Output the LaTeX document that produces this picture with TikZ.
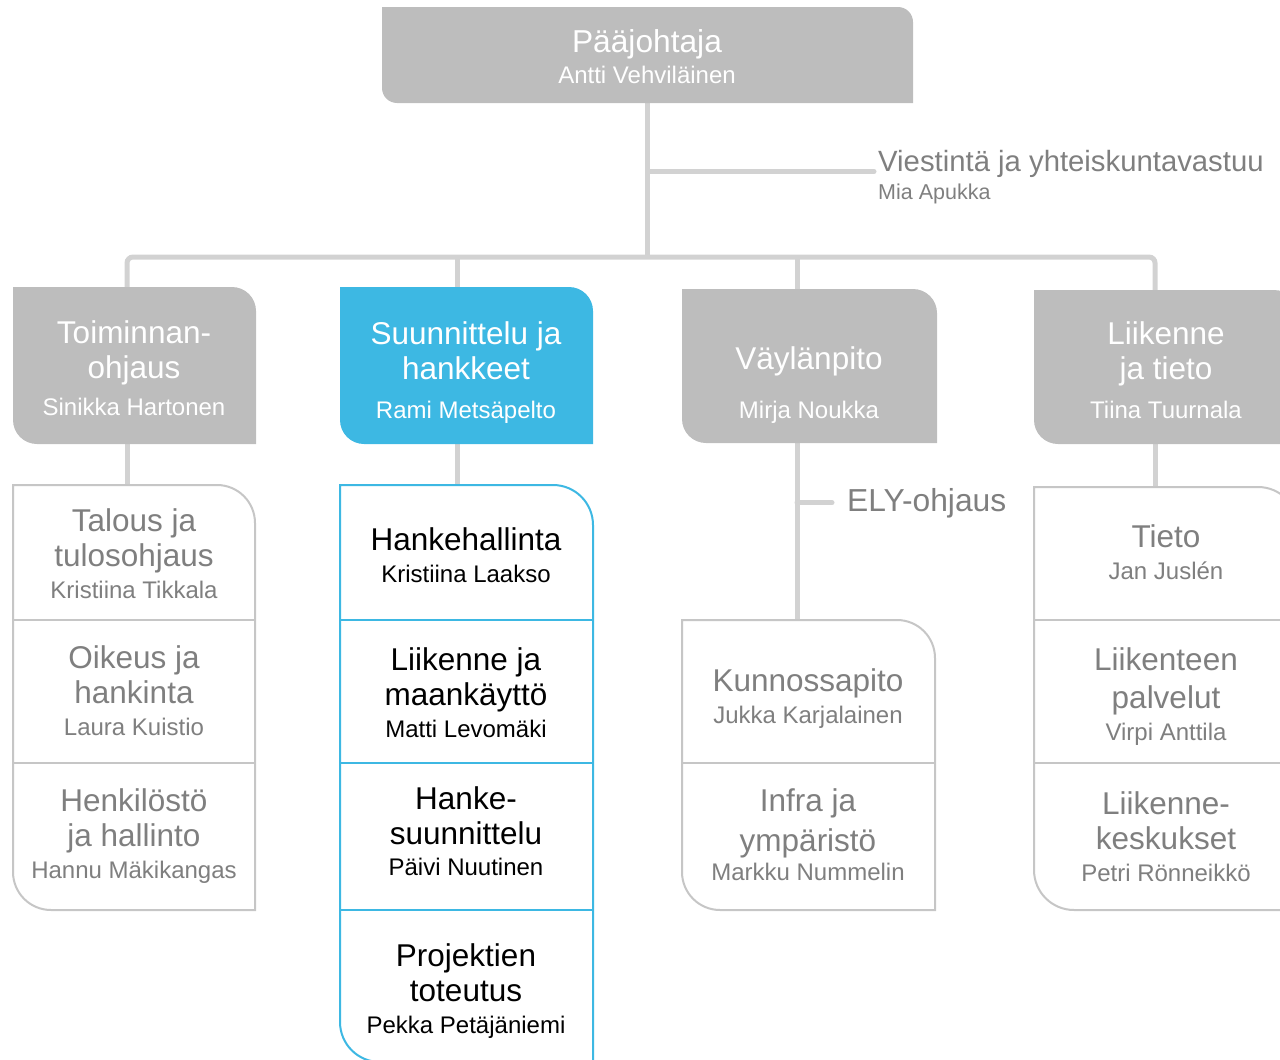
\documentclass[tikz,border=0pt]{standalone}
\usepackage{fontspec}
\setmainfont{Liberation Sans}
\usetikzlibrary{calc}
\definecolor{boxgray}{HTML}{BDBDBD}
\definecolor{lineg}{HTML}{D2D2D2}
\definecolor{bordg}{HTML}{C6C6C6}
\definecolor{blu}{HTML}{3DB8E3}
\definecolor{txtg}{HTML}{7F7F7F}
\newcommand\tworound[3]{%
  \path[#2] (#1.north west) -- ([xshift=-#3]#1.north east)
    arc[start angle=90,end angle=0,radius=#3] -- (#1.south east)
    -- ([xshift=#3]#1.south west) arc[start angle=270,end angle=180,radius=#3] -- cycle;}
\newcommand\nm{\fontsize{24}{28}\selectfont}
\tikzset{
  frame/.style={rectangle, inner sep=0pt, outer sep=0pt, draw=none},
  conn/.style={draw=lineg, line width=5pt},
  txt/.style={align=center, inner sep=0pt, font=\fontsize{31.5}{35}\selectfont},
  wtxt/.style={txt, text=white},
  gtxt/.style={txt, text=txtg},
  ktxt/.style={txt, text=black},
  gbox/.style={fill=boxgray},
  bbox/.style={fill=blu},
  glist/.style={draw=bordg, line width=2pt, fill=white},
  blist/.style={draw=blu, line width=2pt, fill=white},
  gdiv/.style={draw=bordg, line width=2pt},
  bdiv/.style={draw=blu, line width=2pt},
}
\begin{document}
\begin{tikzpicture}[x=1pt,y=1pt]
\useasboundingbox (0,0) rectangle (1280,-1060);
\clip (0,0) rectangle (1280,-1060);
% frames
\node[frame, minimum width=531pt, minimum height=96pt] (top) at (647.5,-55) {};
\node[frame, minimum width=243pt, minimum height=157pt] (l1) at (134.5,-365.5) {};
\node[frame, minimum width=253pt, minimum height=157pt] (l2) at (466.5,-365.5) {};
\node[frame, minimum width=255pt, minimum height=154pt] (l3) at (809.5,-366) {};
\node[frame, minimum width=264pt, minimum height=154pt] (l4) at (1166,-367) {};
\node[frame, minimum width=242pt, minimum height=425pt] (c1) at (134,-697.5) {};
\node[frame, minimum width=253pt, minimum height=577pt] (c2) at (466.5,-773.5) {};
\node[frame, minimum width=253pt, minimum height=290pt] (c3) at (808.5,-765) {};
\node[frame, minimum width=264pt, minimum height=423pt] (c4) at (1166,-698.5) {};
% side labels
\node[anchor=base west, inner sep=0pt, text=txtg, font=\fontsize{29.3}{33}\selectfont] (viest) at (878,-171.5) {Viestintä ja yhteiskuntavastuu};
\node[anchor=base west, inner sep=0pt, text=txtg, font=\fontsize{21.5}{25}\selectfont] (mia) at (878,-199) {Mia Apukka};
\node[anchor=base west, inner sep=0pt, text=txtg, font=\fontsize{31.8}{35}\selectfont] (ely) at (847,-511) {ELY-ohjaus};
\coordinate (bus) at (647.5,-257);
% connectors
\draw[conn] (top.south) -- (bus);
\draw[conn, line cap=round] (top.south |- viest.base west) -- ([xshift=-4pt]viest.base west);
\draw[conn, rounded corners=6pt] ([xshift=-7.5pt]l1.north) |- (bus) -| ([xshift=-11pt]l4.north);
\draw[conn] ([xshift=-9.5pt]l2.north) -- ([xshift=-9.5pt]l2.north |- bus);
\draw[conn] ([xshift=-12.5pt]l3.north) -- ([xshift=-12.5pt]l3.north |- bus);
\draw[conn] ([xshift=-7.5pt]l1.south) -- ([xshift=-7.5pt]l1.south |- c1.north);
\draw[conn] ([xshift=-9.5pt]l2.south) -- ([xshift=-9.5pt]l2.south |- c2.north);
\draw[conn] ([xshift=-12.5pt]l3.south) -- ([xshift=-12.5pt]l3.south |- c3.north);
\draw[conn] ([xshift=-11pt]l4.south) -- ([xshift=-11pt]l4.south |- c4.north);
\draw[conn, line cap=round] ([xshift=-12.5pt]l3.south |- ely.west) -- ([xshift=-15pt]ely.west);
% boxes
\tworound{top}{gbox}{15pt}
\tworound{l1}{gbox}{24pt}
\tworound{l2}{bbox}{24pt}
\tworound{l3}{gbox}{24pt}
\tworound{l4}{gbox}{24pt}
\tworound{c1}{glist}{38pt}
\tworound{c2}{blist}{40pt}
\tworound{c3}{glist}{38pt}
\tworound{c4}{glist}{40pt}
% dividers
\draw[gdiv] (c1.west |- 0,-620) -- (c1.east |- 0,-620);
\draw[gdiv] (c1.west |- 0,-763) -- (c1.east |- 0,-763);
\draw[bdiv] (c2.west |- 0,-620) -- (c2.east |- 0,-620);
\draw[bdiv] (c2.west |- 0,-763) -- (c2.east |- 0,-763);
\draw[bdiv] (c2.west |- 0,-910) -- (c2.east |- 0,-910);
\draw[gdiv] (c3.west |- 0,-763) -- (c3.east |- 0,-763);
\draw[gdiv] (c4.west |- 0,-620) -- (c4.east |- 0,-620);
\draw[gdiv] (c4.west |- 0,-763) -- (c4.east |- 0,-763);
% texts
\node[wtxt, font=\fontsize{31.7}{34}\selectfont] (ttop) at (647,-56.5) {Pääjohtaja\\[-3pt]\nm Antti Vehviläinen};
\node[wtxt] (tl1) at (134,-368) {Toiminnan-\\ohjaus\\[2pt]\nm Sinikka Hartonen};
\node[wtxt] (tl2) at (466,-372.5) {Suunnittelu ja\\hankkeet\\[4pt]\nm Rami Metsäpelto};
\node[wtxt] (tl3) at (809,-385.5) {Väylänpito\\[14pt]\nm Mirja Noukka};
\node[wtxt] (tl4) at (1166,-370) {Liikenne\\ja tieto\\[4pt]\nm Tiina Tuurnala};
\node[gtxt] (c1a) at (134,-554) {Talous ja\\tulosohjaus\\[-3pt]\nm Kristiina Tikkala};
\node[gtxt] (c1b) at (134,-691) {Oikeus ja\\hankinta\\[-3pt]\nm Laura Kuistio};
\node[gtxt] (c1c) at (134,-836) {Henkilöstö\\ja hallinto\\[-3pt]\nm Hannu Mäkikangas};
\node[ktxt] (c2a) at (466,-555.5) {Hankehallinta\\[-3pt]\nm Kristiina Laakso};
\node[ktxt] (c2b) at (466,-693) {Liikenne ja\\maankäyttö\\[-3pt]\nm Matti Levomäki};
\node[ktxt] (c2c) at (466,-831) {Hanke-\\suunnittelu\\[-4pt]\nm Päivi Nuutinen};
\node[ktxt] (c2d) at (466,-991.5) {Projektien\\toteutus\\[-3pt]\nm Pekka Petäjäniemi};
\node[gtxt] (c3a) at (808,-699) {Kunnossapito\\[-3pt]\nm Jukka Karjalainen};
\node[gtxt] (c3b) at (808,-835) {Infra ja\\[5pt]ympäristö\\[-6pt]\nm Markku Nummelin};
\node[gtxt] (c4a) at (1166,-552) {Tieto\\[-3pt]\nm Jan Juslén};
\node[gtxt] (c4b) at (1166,-696.5) {Liikenteen\\[3pt]palvelut\\[-3pt]\nm Virpi Anttila};
\node[gtxt] (c4c) at (1166,-837) {Liikenne-\\keskukset\\[-3pt]\nm Petri Rönneikkö};
\end{tikzpicture}
\end{document}
